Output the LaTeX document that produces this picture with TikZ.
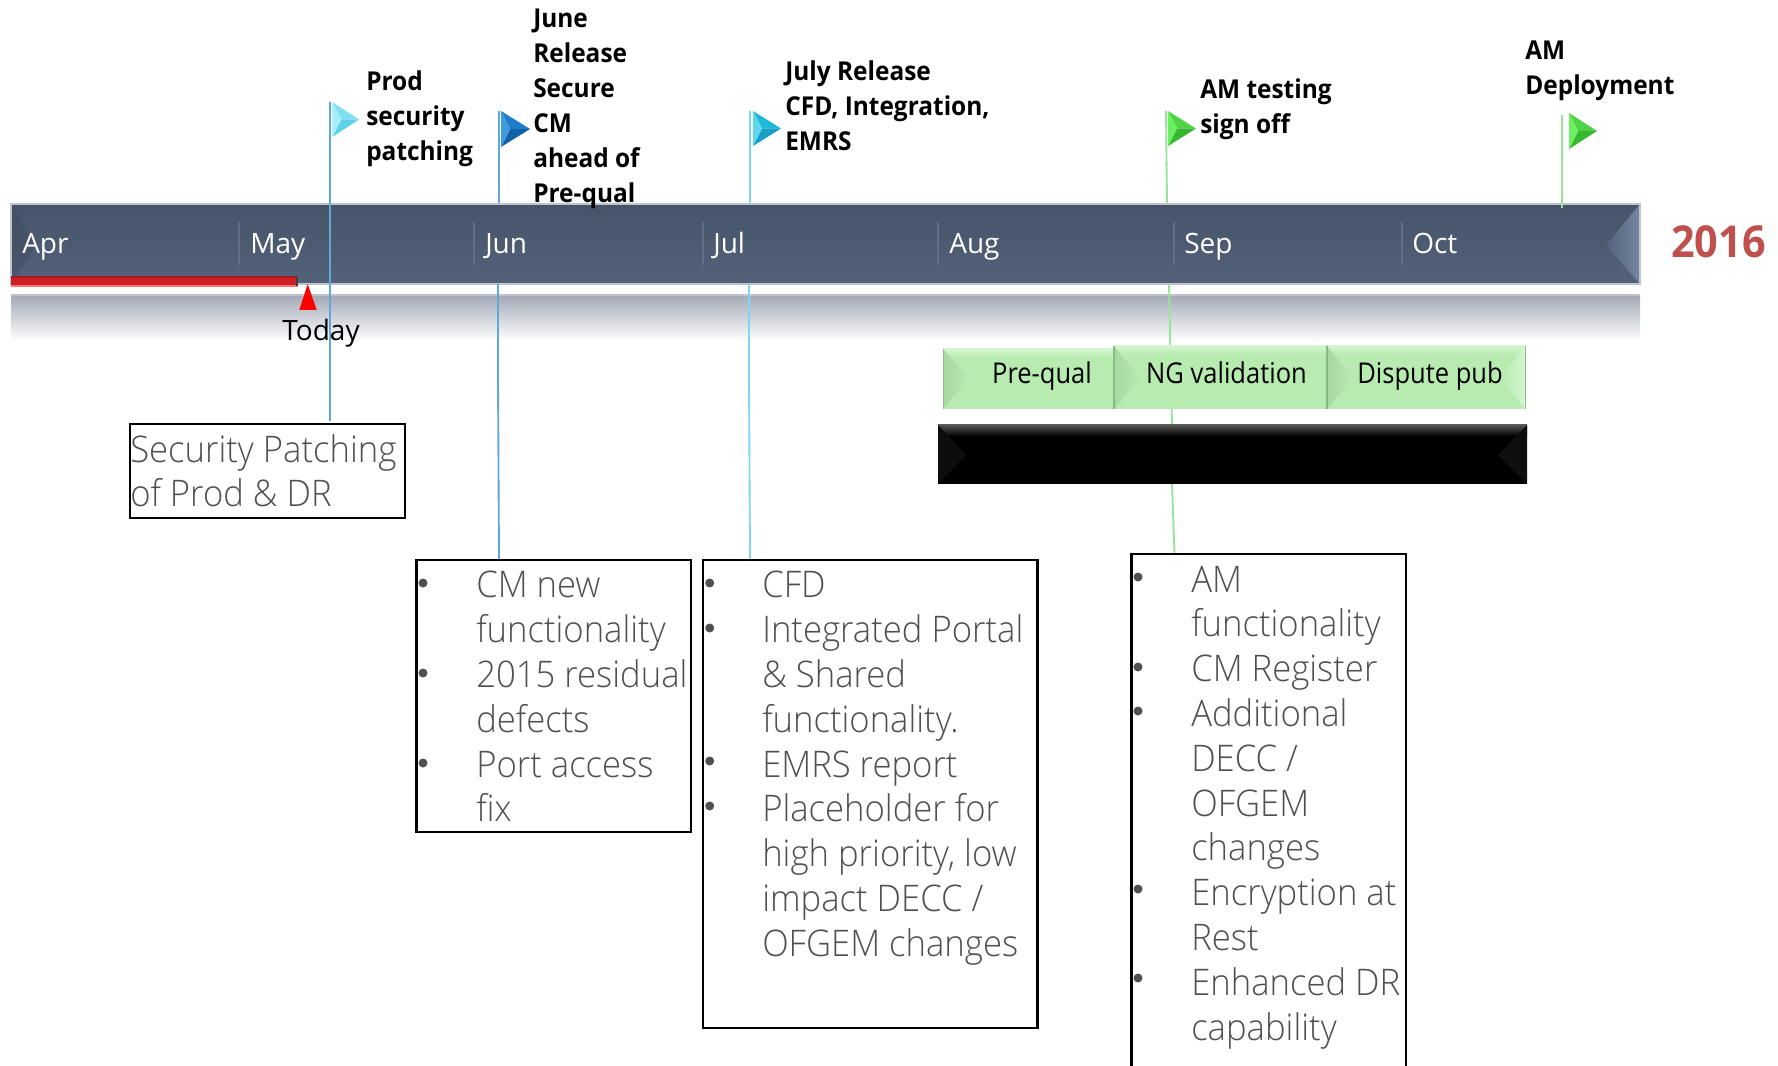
\documentclass[tikz,border=0pt]{standalone}
\usepackage{fontspec}
\setmainfont{Open Sans}
\newfontfamily\lightf[FakeStretch=0.945]{Open Sans Light}
\newfontfamily\condf[FakeStretch=0.94]{Open Sans}
\newfontfamily\phasef[FakeStretch=0.89]{Open Sans}
\definecolor{barA}{HTML}{465469}
\definecolor{barB}{HTML}{536279}
\definecolor{barEdge}{HTML}{BFC4CC}
\definecolor{barEnd}{HTML}{75869F}
\definecolor{tickc}{HTML}{626F85}
\definecolor{blueline}{HTML}{5FA8DC}
\definecolor{cyanline}{HTML}{7FD6F0}
\definecolor{greenline}{HTML}{98E39A}
\definecolor{boxgreen}{HTML}{B7EBB0}
\definecolor{boxlight}{HTML}{D3F6CE}
\definecolor{boxfacet}{HTML}{A6D8A0}
\definecolor{boxsep}{HTML}{86BB84}
\definecolor{yearred}{HTML}{C0504D}
\definecolor{refl}{HTML}{A3A9B6}
\definecolor{todayred}{HTML}{CE1F25}
\definecolor{bodytext}{HTML}{505050}
\definecolor{fa1}{HTML}{A5EEF9}\definecolor{fb1}{HTML}{7EE0F2}\definecolor{fc1}{HTML}{5FD2EA}
\definecolor{fa2}{HTML}{3D9BD9}\definecolor{fb2}{HTML}{1F7DC8}\definecolor{fc2}{HTML}{0F62A8}
\definecolor{fa3}{HTML}{5ED8EE}\definecolor{fb3}{HTML}{1EB8DA}\definecolor{fc3}{HTML}{16A0C8}
\definecolor{fa4}{HTML}{6CF060}\definecolor{fb4}{HTML}{4FD445}\definecolor{fc4}{HTML}{38B830}
\newcommand{\flagshape}[7]{% x,top,bottom,tipx,left,top,bottom colours
 \pgfmathsetmacro{\ymid}{(#2+#3)/2}
 \pgfmathsetmacro{\xin}{#1+9}
 \fill[#6] (#1,#2)--(#4,\ymid)--(\xin,\ymid)--cycle;
 \fill[#7] (#1,#3)--(#4,\ymid)--(\xin,\ymid)--cycle;
 \fill[#5] (#1,#2)--(#1,#3)--(\xin,\ymid)--cycle;
}
\tikzset{
 month/.style={anchor=base west,text=white,font=\fontsize{21}{25}\selectfont,inner sep=0pt},
 tick/.style={draw=tickc,line width=.9pt},
 mile/.style={anchor=north west,inner sep=0pt,align=left,font=\condf\bfseries\fontsize{19.5}{26.25}\selectfont},
 tbox/.style={draw=black,line width=1.7pt},
 body/.style={anchor=north west,inner sep=0pt,align=left,text=bodytext,font=\lightf\fontsize{27.5}{33.6}\selectfont},
 phase/.style={anchor=base,inner sep=0pt,font=\phasef\fontsize{21.5}{25}\selectfont},
 stem/.style={line width=1.4pt},
}
\begin{document}
\begin{tikzpicture}[x=.75pt,y=-.75pt]
\useasboundingbox (0,0) rectangle (1778,1066);
% bar
\shade[bottom color=barB,top color=barA] (11,204) rectangle (1640,284);
\fill[barA!90!black,opacity=.5] (11,204)--(11,284)--(36,245)--cycle;
\begin{scope}
\clip (1640,204)--(1640,284)--(1606,245)--cycle;
\shade[left color=barB,right color=barEnd] (1606,204) rectangle (1640,284);
\end{scope}
\shade[top color=refl,bottom color=white] (11,295) rectangle (1640,341);
\draw[barEdge,line width=.8pt] (11,204) rectangle (1640,284);
\draw[barEdge,line width=.8pt] (11,295)--(1640,295);
% today bar
\fill[todayred] (11,276) rectangle (298,287);
\fill[todayred!80!black] (11,276) rectangle (298,278);
\fill[red!55!white] (11,285) rectangle (298,287);
\fill[black!75] (296,277) rectangle (298,286);
\coordinate (td) at (307.7,284);
\fill[red] (td)--(316.7,310)--(299.3,310)--cycle;
\node[anchor=base,inner sep=0pt,font=\fontsize{21}{25}\selectfont] (today) at (321,340) {Today};
% ticks
\foreach \x in {239,474,703,938,1174,1402}{\draw[tick] (\x,222)--(\x,265);}
\node[month] (m1) at (22,254) {Apr};
\node[month] (m2) at (250,254) {May};
\node[month] (m3) at (485,254) {Jun};
\node[month] (m4) at (713,254) {Jul};
\node[month] (m5) at (949,254) {Aug};
\node[month] (m6) at (1184,254) {Sep};
\node[month] (m7) at (1412,254) {Oct};
\node[anchor=base west,inner sep=0pt,text=yearred,font=\condf\bfseries\fontsize{33}{40}\selectfont] (year) at (1671,258) {2016};
% anchors of the stems
\coordinate (b1t) at (330,421);
\coordinate (b2t) at (499,560);
\coordinate (b3t) at (750,560);
\coordinate (b4t) at (1174.5,554);
\coordinate (f1) at (330,102);
\coordinate (f2) at (499,111);
\coordinate (f3) at (750,111);
\coordinate (f4) at (1166,111);
\coordinate (f5) at (1562,115);
\draw[blueline,stem] (f1)--(b1t);
\draw[blueline,stem] (f2)--(499,203) (498,284)--(498,377)--(b2t);
\draw[cyanline,stem] (f3)--(750,203) (749,284)--(749,377)--(b3t);
\draw[greenline,stem] (f4)--(1167,203) (1169,284)--(1172,425) (1172,484)--(b4t);
\draw[greenline,stem] (f5)--(1562,208);
% flags
\flagshape{332.3}{102}{137}{359}{fa1}{fb1}{fc1}
\flagshape{501}{111}{147}{530}{fa2}{fb2}{fc2}
\flagshape{753}{111}{146}{781}{fa3}{fb3}{fc3}
\flagshape{1168}{111}{146}{1196}{fa4}{fb4}{fc4}
\flagshape{1569}{113}{149}{1597}{fa4}{fb4}{fc4}
% milestone text
\node[mile] (t1) at (366,70) {Prod\\security\\patching};
\node[mile] (t2) at (533,9) {June\\Release\\Secure\\CM\\ahead of\\Pre-qual};
\node[mile] (t3) at (785,60) {July Release\\CFD, Integration,\\EMRS};
\node[mile] (t4) at (1200,78) {AM testing\\sign off};
\node[mile] (t5) at (1525,41) {AM\\Deployment};
% phases
\fill[boxgreen] (943,349) rectangle (1114,409);
\fill[boxgreen] (1114,346) rectangle (1327,409);
\fill[boxgreen] (1327,346) rectangle (1525,409);
\foreach \a/\b/\t in {943/1114/349,1114/1327/346,1327/1525/346}{
 \shade[top color=boxlight,bottom color=boxgreen] (\a,\t) rectangle (\b,\t+9);
 \begin{scope}
 \clip (\a,\t)--(\a,409)--(\a+26,378)--cycle;
 \shade[left color=boxfacet,right color=boxgreen] (\a,\t) rectangle (\a+26,409);
 \end{scope}
}
\begin{scope}
\clip (1525,346)--(1525,409)--(1500,378)--cycle;
\shade[left color=boxgreen,right color=boxlight] (1500,346) rectangle (1525,409);
\end{scope}
\draw[boxsep,line width=.8pt] (1114,346)--(1114,409) (1327,346)--(1327,409);
\draw[boxgreen!80!black,line width=.6pt] (1525,346)--(1525,409) (943,349)--(943,409);
\node[phase] (p1) at (1042,383) {Pre-qual};
\node[phase] (p2) at (1226.5,383) {NG validation};
\node[phase] (p3) at (1430,383) {Dispute pub};
% black bar
\fill[black] (938,424.5) rectangle (1527,484);
\shade[top color=black!65,bottom color=black] (938,424.5) rectangle (1527,436);
\fill[black!95] (938,425)--(938,484)--(966,455)--cycle;
\fill[black!94] (1527,425)--(1527,484)--(1498,455)--cycle;
% text boxes
\draw[tbox] (130,424) rectangle (405,518);
\draw[tbox] (416.5,560) rectangle (691,832);
\draw[tbox] (703,560) rectangle (1037.5,1028);
\draw[tbox] (1131.5,1068)--(1131.5,554)--(1406,554)--(1406,1068);
\node[body] (s1) at (130,434) {Security Patching\\of Prod \& DR};
\node[body] (l2) at (476,571) {CM new\\functionality\\2015 residual\\defects\\Port access\\fix};
\node[body] (l3) at (762,571) {CFD\\Integrated Portal\\\& Shared\\functionality.\\EMRS report\\Placeholder for\\high priority, low\\impact DECC /\\OFGEM changes};
\node[body] (l4) at (1191,565.5) {AM\\functionality\\CM Register\\Additional\\DECC /\\OFGEM\\changes\\Encryption at\\Rest\\Enhanced DR\\capability};
\foreach \x/\y in {423/583,423/673,423/763,709.7/583,709.7/628,709.7/761,709.7/806,1138/577,1138/667,1138/711,1138/889,1138/978}{\fill[bodytext] (\x,\y) circle (4.5);}
\end{tikzpicture}
\end{document}
